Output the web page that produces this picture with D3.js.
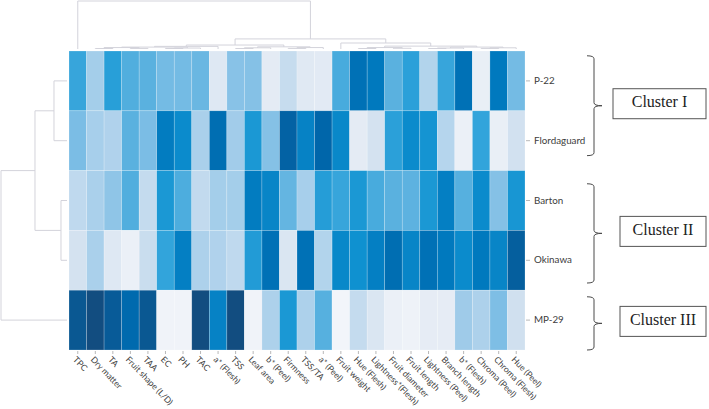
<!DOCTYPE html>
<html>
<head>
<meta charset="utf-8">
<script src="https://cdn.jsdelivr.net/npm/d3@7"></script>
<style>
  body { margin: 0; background: #fff; }
  svg { display: block; }
  .tick line { stroke: #b8b8b8; }
  .tick text { fill: #404040; font-family: Lato, sans-serif; }
</style>
</head>
<body>
<div id="chart"></div>
<script>
const width = 709, height = 409;

// rows (cultivars) and columns (traits), in the order they appear
const rowLabels = ["P-22", "Flordaguard", "Barton", "Okinawa", "MP-29"];
const colLabels = ["TPC", "Dry matter", "TA", "Fruit shape (L/D)", "TAA", "EC", "PH", "TAC",
  "a* (Flesh)", "TSS", "Leaf area", "b* (Peel)", "Firmness", "TSS/TA", "a* (Peel)",
  "Fruit weight", "Hue (Flesh)", "Lightness*(Flesh)", "Fruit diameter", "Fruit length",
  "Lightness (Peel)", "Branch length", "b* (Flesh)", "Chroma (Peel)", "Chroma (Flesh)", "Hue (Peel)"];

// relative intensity (0 = palest, 1 = darkest)
const p22         = [0.68, 0.37, 0.72, 0.62, 0.60, 0.52, 0.52, 0.55, 0.13, 0.46, 0.47, 0.10, 0.24, 0.12, 0.11, 0.64, 0.90, 0.88, 0.60, 0.71, 0.32, 0.68, 0.90, 0.07, 0.88, 0.52];
const flordaguard = [0.50, 0.36, 0.33, 0.60, 0.50, 0.87, 0.82, 0.35, 0.91, 0.38, 0.76, 0.47, 0.94, 0.85, 0.93, 0.83, 0.10, 0.18, 0.71, 0.82, 0.78, 0.31, 0.06, 0.69, 0.07, 0.19];
const barton      = [0.27, 0.35, 0.44, 0.62, 0.25, 0.76, 0.63, 0.26, 0.37, 0.37, 0.87, 0.84, 0.57, 0.36, 0.73, 0.68, 0.76, 0.64, 0.60, 0.59, 0.76, 0.86, 0.61, 0.82, 0.47, 0.77];
const okinawa     = [0.18, 0.35, 0.13, 0.06, 0.23, 0.69, 0.86, 0.34, 0.33, 0.27, 0.74, 0.90, 0.15, 0.90, 0.32, 0.83, 0.80, 0.86, 0.91, 0.84, 0.90, 0.88, 0.82, 0.88, 0.84, 0.95];
const mp29        = [0.97, 1.00, 0.96, 0.92, 0.97, 0.03, 0.03, 1.00, 0.85, 1.00, 0.03, 0.34, 0.76, 0.34, 0.61, 0.02, 0.25, 0.15, 0.06, 0.04, 0.09, 0.09, 0.39, 0.34, 0.49, 0.20];
const values = [p22, flordaguard, barton, okinawa, mp29];

// dendrograms: [left, right, mergeHeight], leaves are column / row indices
const colB1 = [[[[1, 2, 0.1], [3, 4, 0.12], 0.3], [[5, 6, 0.1], 7, 0.2], 0.4], 8, 0.55];
const colB2 = [[[9, 10, 0.1], 11, 0.25], [[12, 13, 0.12], 14, 0.3], 0.45];
const colD  = [[[16, 17, 0.1], [18, 19, 0.15], 0.3], [[[20, 21, 0.1], 22, 0.2], [[23, 24, 0.12], 25, 0.25], 0.4], 0.6];
const colTree = [0, [[colB1, colB2, 0.83], [15, colD, 1.25], 2.1], 10];
const rowTree = [[[0, 1, 1.97], [2, 3, 0.91], 4.85], 4, 10];

const clusters = [
  { name: "Cluster I",   from: 0.08, to: 1.75, boxW: 93 },
  { name: "Cluster II",  from: 2.22, to: 3.88, boxW: 86 },
  { name: "Cluster III", from: 4.11, to: 5.0,  boxW: 86 }
];

const svg = d3.select("#chart").append("svg")
  .attr("width", width).attr("height", height);

const x = d3.scaleBand().domain(colLabels).range([69, 525]);
const y = d3.scaleBand().domain(rowLabels).range([51, 350]);

const color = d3.scaleLinear()
  .domain([0, 0.1, 0.2, 0.3, 0.4, 0.5, 0.6, 0.7, 0.8, 0.88, 0.93, 1])
  .range(["#f5f7fb", "#e4ebf4", "#d0e0ef", "#b8d6ed", "#9ccae9", "#7bbde5",
          "#5ab1df", "#2ea2da", "#0f91d0", "#0079be", "#0066aa", "#124d80"]);

// heatmap cells
const cells = [];
values.forEach((row, r) => row.forEach((v, c) => cells.push({ r, c, v })));

svg.append("g").selectAll("rect")
  .data(cells)
  .join("rect")
  .attr("x", d => x(colLabels[d.c]))
  .attr("y", d => y(rowLabels[d.r]))
  .attr("width", x.bandwidth())
  .attr("height", y.bandwidth())
  .attr("fill", d => color(d.v))
  .attr("stroke", "rgba(255,255,255,0.35)")
  .attr("stroke-width", 0.6);

// axes
const xAxis = svg.append("g")
  .attr("transform", "translate(0,351)")
  .call(d3.axisBottom(x).tickSize(3).tickPadding(0));
xAxis.select(".domain").remove();
xAxis.selectAll("text")
  .attr("font-size", 8.6)
  .attr("text-anchor", "start")
  .attr("dy", "0.35em")
  .attr("transform", "translate(-3,7) rotate(46)")
  .attr("y", 0).attr("x", 0);

const yAxis = svg.append("g")
  .attr("transform", "translate(526,0)")
  .call(d3.axisRight(y).tickSize(4).tickPadding(4));
yAxis.select(".domain").remove();
yAxis.selectAll("text").attr("font-size", 9.8);

// dendrogram helpers
const dendroStroke = "#d3d3db";

function walk(node, leafPos, lines) {
  if (typeof node === "number") return { p: leafPos(node), h: 0 };
  const a = walk(node[0], leafPos, lines);
  const b = walk(node[1], leafPos, lines);
  const h = node[2];
  lines.push({ a, b, h });
  return { p: (a.p + b.p) / 2, h };
}

// top (columns)
const colLines = [];
walk(colTree, i => x(colLabels[i]) + x.bandwidth() / 2, colLines);
const hy = d3.scaleLinear().domain([0, 10]).range([49, 1]);
svg.append("g").selectAll("path")
  .data(colLines)
  .join("path")
  .attr("fill", "none")
  .attr("stroke", dendroStroke)
  .attr("stroke-width", 1)
  .attr("d", d => `M${d.a.p},${hy(d.a.h)}V${hy(d.h)}H${d.b.p}V${hy(d.b.h)}`);

// left (rows)
const rowLines = [];
walk(rowTree, i => y(rowLabels[i]) + y.bandwidth() / 2, rowLines);
const hx = d3.scaleLinear().domain([0, 10]).range([67, 1]);
svg.append("g").selectAll("path")
  .data(rowLines)
  .join("path")
  .attr("fill", "none")
  .attr("stroke", dendroStroke)
  .attr("stroke-width", 1)
  .attr("d", d => `M${hx(d.a.h)},${d.a.p}H${hx(d.h)}V${d.b.p}H${hx(d.b.h)}`);

// cluster braces and boxes
const rowY = d3.scaleLinear().domain([0, rowLabels.length]).range([51, 350]);
const bx = 587, bv = 594, tip = 602;

const cg = svg.append("g").selectAll("g")
  .data(clusters)
  .join("g");

cg.append("path")
  .attr("fill", "none")
  .attr("stroke", "#4a4a4a")
  .attr("stroke-width", 1)
  .attr("d", d => {
    const t = rowY(d.from), b = rowY(d.to), m = (t + b) / 2;
    return `M${bx},${t}Q${bv},${t} ${bv},${t + 3}V${m - 3}Q${bv},${m} ${tip},${m}` +
           `M${tip},${m}Q${bv},${m} ${bv},${m + 3}V${b - 3}Q${bv},${b} ${bx},${b}`;
  });

cg.append("rect")
  .attr("x", d => 706 - d.boxW)
  .attr("y", d => (rowY(d.from) + rowY(d.to)) / 2 - 17)
  .attr("width", d => d.boxW)
  .attr("height", 30)
  .attr("fill", "#fff")
  .attr("stroke", "#555")
  .attr("stroke-width", 1);

cg.append("text")
  .attr("x", d => 706 - d.boxW / 2)
  .attr("y", d => (rowY(d.from) + rowY(d.to)) / 2 - 2)
  .attr("text-anchor", "middle")
  .attr("dominant-baseline", "middle")
  .attr("font-family", "'Liberation Serif', 'Times New Roman', serif")
  .attr("font-size", 16)
  .attr("fill", "#222")
  .text(d => d.name);
</script>
</body>
</html>
